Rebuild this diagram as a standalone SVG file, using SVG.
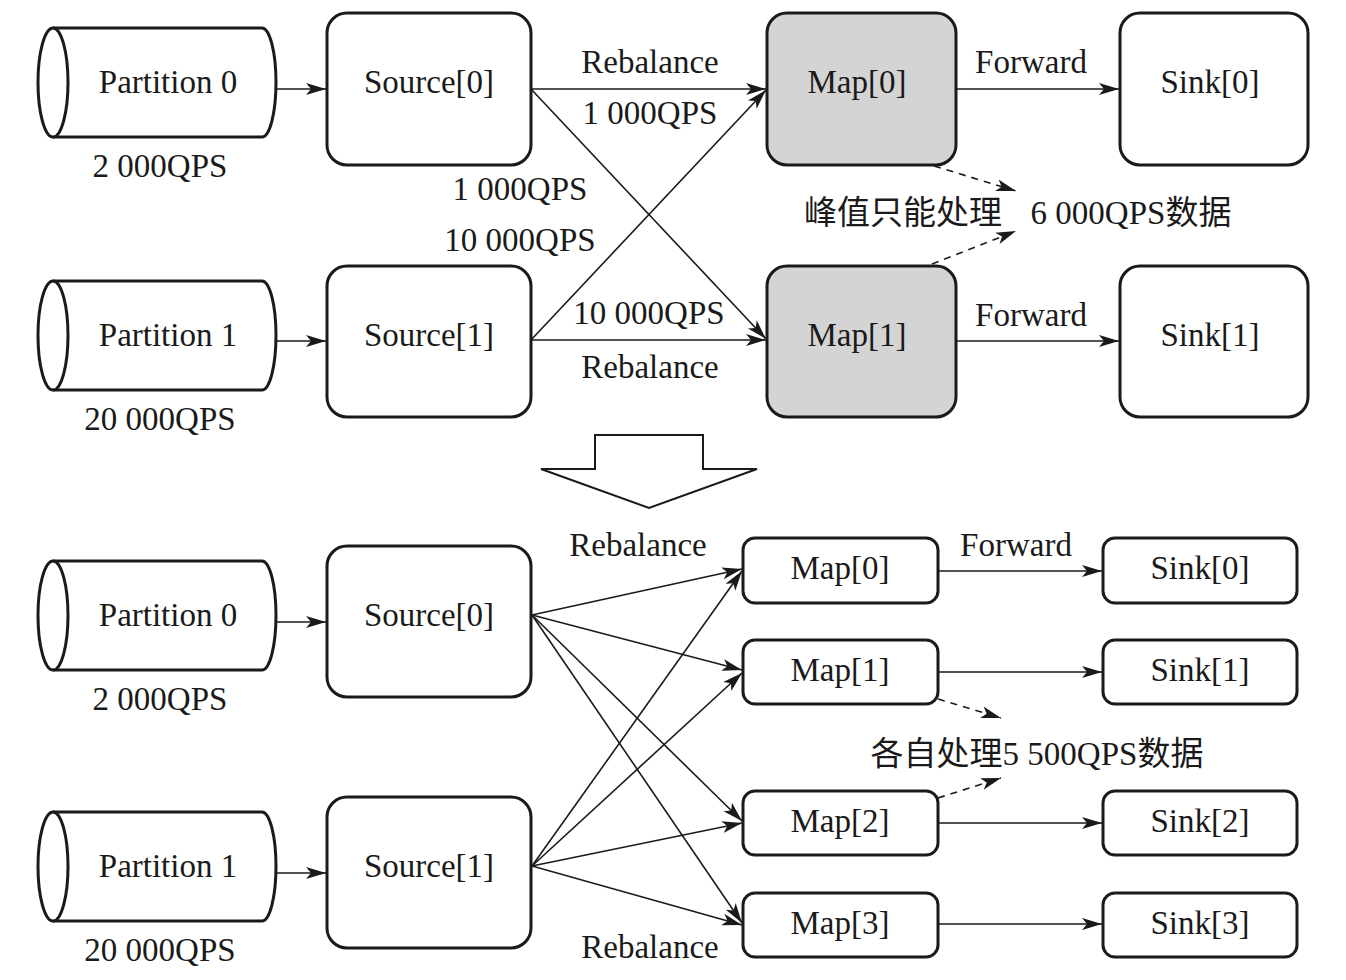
<svg xmlns="http://www.w3.org/2000/svg" width="1346" height="980" viewBox="0 0 1346 980">
<style>
.box{fill:#fff;stroke:#1a1a1a;stroke-width:3}
.gray{fill:#d4d4d4}
.cyl{fill:#fff;stroke:#1a1a1a;stroke-width:3}
.t{font-family:"Liberation Serif","Noto Sans CJK SC",serif;font-size:33px;fill:#1a1a1a;text-anchor:middle}
.c{fill:none;stroke:#1a1a1a;stroke-width:1.6}
.d{fill:none;stroke:#1a1a1a;stroke-width:1.6;stroke-dasharray:7 6}
</style>
<defs>
<marker id="ah" markerUnits="userSpaceOnUse" markerWidth="22" markerHeight="14" refX="20" refY="6" orient="auto" viewBox="0 0 22 12">
<path d="M0,0 L20,6 L0,12 L5,6 Z" fill="#1a1a1a"/>
</marker>
<g id="cylShape">
<path d="M53,0 L262,0 A14,54.5 0 0 1 262,109 L53,109" class="cyl"/>
<ellipse cx="53" cy="54.5" rx="15" ry="54.5" class="cyl"/>
</g>
</defs>
<rect width="1346" height="980" fill="#fff"/>

<g id="connectors">
<line x1="276" y1="89" x2="326" y2="89" class="c" marker-end="url(#ah)"/>
<line x1="276" y1="341" x2="326" y2="341" class="c" marker-end="url(#ah)"/>
<line x1="531" y1="89" x2="766" y2="89" class="c" marker-end="url(#ah)"/>
<line x1="531" y1="89" x2="766" y2="339" class="c" marker-end="url(#ah)"/>
<line x1="531" y1="340" x2="766" y2="90" class="c" marker-end="url(#ah)"/>
<line x1="531" y1="340" x2="766" y2="340" class="c" marker-end="url(#ah)"/>
<line x1="956" y1="89" x2="1119" y2="89" class="c" marker-end="url(#ah)"/>
<line x1="956" y1="341" x2="1119" y2="341" class="c" marker-end="url(#ah)"/>
<line x1="934" y1="166" x2="1016" y2="191" class="d" marker-end="url(#ah)"/>
<line x1="932" y1="264" x2="1016" y2="231" class="d" marker-end="url(#ah)"/>

<line x1="276" y1="622" x2="326" y2="622" class="c" marker-end="url(#ah)"/>
<line x1="276" y1="873" x2="326" y2="873" class="c" marker-end="url(#ah)"/>
<line x1="532" y1="615" x2="742" y2="569" class="c" marker-end="url(#ah)"/>
<line x1="532" y1="615" x2="742" y2="670" class="c" marker-end="url(#ah)"/>
<line x1="532" y1="615" x2="742" y2="821" class="c" marker-end="url(#ah)"/>
<line x1="532" y1="615" x2="742" y2="923" class="c" marker-end="url(#ah)"/>
<line x1="532" y1="866" x2="742" y2="571" class="c" marker-end="url(#ah)"/>
<line x1="532" y1="866" x2="742" y2="673" class="c" marker-end="url(#ah)"/>
<line x1="532" y1="866" x2="742" y2="823" class="c" marker-end="url(#ah)"/>
<line x1="532" y1="866" x2="742" y2="925" class="c" marker-end="url(#ah)"/>
<line x1="938" y1="571" x2="1102" y2="571" class="c" marker-end="url(#ah)"/>
<line x1="938" y1="672" x2="1102" y2="672" class="c" marker-end="url(#ah)"/>
<line x1="938" y1="823" x2="1102" y2="823" class="c" marker-end="url(#ah)"/>
<line x1="938" y1="924" x2="1102" y2="924" class="c" marker-end="url(#ah)"/>
<line x1="938" y1="699" x2="1001" y2="718" class="d" marker-end="url(#ah)"/>
<line x1="938" y1="798" x2="1001" y2="778" class="d" marker-end="url(#ah)"/>
</g>

<g id="labels">
<text class="t" x="650" y="73">Rebalance</text>
<text class="t" x="650" y="124">1 000QPS</text>
<text class="t" x="520" y="200">1 000QPS</text>
<text class="t" x="520" y="251">10 000QPS</text>
<text class="t" x="649" y="324">10 000QPS</text>
<text class="t" x="650" y="378">Rebalance</text>
<text class="t" x="1031" y="73">Forward</text>
<text class="t" x="1031" y="326">Forward</text>
<text class="t" x="903" y="224">峰值只能处理</text>
<text class="t" x="1131" y="224">6 000QPS数据</text>
<text class="t" x="638" y="556">Rebalance</text>
<text class="t" x="1016" y="556">Forward</text>
<text class="t" x="650" y="958">Rebalance</text>
<text class="t" x="1037" y="765">各自处理5 500QPS数据</text>
</g>

<g id="partition0-top">
<use href="#cylShape" y="28"/>
<text class="t" x="168" y="93">Partition 0</text>
<text class="t" x="160" y="177">2 000QPS</text>
</g>
<g id="partition1-top">
<use href="#cylShape" y="281"/>
<text class="t" x="168" y="346">Partition 1</text>
<text class="t" x="160" y="430">20 000QPS</text>
</g>
<g id="source0-top">
<rect class="box" x="327" y="13" width="204" height="152" rx="20"/>
<text class="t" x="429" y="93">Source[0]</text>
</g>
<g id="source1-top">
<rect class="box" x="327" y="266" width="204" height="151" rx="20"/>
<text class="t" x="429" y="346">Source[1]</text>
</g>
<g id="map0-top">
<rect class="box gray" x="767" y="13" width="189" height="152" rx="20"/>
<text class="t" x="857" y="93">Map[0]</text>
</g>
<g id="map1-top">
<rect class="box gray" x="767" y="266" width="189" height="151" rx="20"/>
<text class="t" x="857" y="346">Map[1]</text>
</g>
<g id="sink0-top">
<rect class="box" x="1120" y="13" width="188" height="152" rx="20"/>
<text class="t" x="1210" y="93">Sink[0]</text>
</g>
<g id="sink1-top">
<rect class="box" x="1120" y="266" width="188" height="151" rx="20"/>
<text class="t" x="1210" y="346">Sink[1]</text>
</g>

<g id="transition-arrow">
<polygon points="595,435 703,435 703,469 757,469 649,508 541,469 595,469" fill="#fff" stroke="#1a1a1a" stroke-width="2"/>
</g>

<g id="partition0-bottom">
<use href="#cylShape" y="561"/>
<text class="t" x="168" y="626">Partition 0</text>
<text class="t" x="160" y="710">2 000QPS</text>
</g>
<g id="partition1-bottom">
<use href="#cylShape" y="812"/>
<text class="t" x="168" y="877">Partition 1</text>
<text class="t" x="160" y="961">20 000QPS</text>
</g>
<g id="source0-bottom">
<rect class="box" x="327" y="546" width="204" height="151" rx="20"/>
<text class="t" x="429" y="626">Source[0]</text>
</g>
<g id="source1-bottom">
<rect class="box" x="327" y="797" width="204" height="151" rx="20"/>
<text class="t" x="429" y="877">Source[1]</text>
</g>
<g id="map0-bottom">
<rect class="box" x="743" y="538" width="195" height="65" rx="12"/>
<text class="t" x="840" y="579">Map[0]</text>
</g>
<g id="map1-bottom">
<rect class="box" x="743" y="640" width="195" height="64" rx="12"/>
<text class="t" x="840" y="681">Map[1]</text>
</g>
<g id="map2-bottom">
<rect class="box" x="743" y="791" width="195" height="64" rx="12"/>
<text class="t" x="840" y="832">Map[2]</text>
</g>
<g id="map3-bottom">
<rect class="box" x="743" y="893" width="195" height="64" rx="12"/>
<text class="t" x="840" y="934">Map[3]</text>
</g>
<g id="sink0-bottom">
<rect class="box" x="1103" y="538" width="194" height="65" rx="12"/>
<text class="t" x="1200" y="579">Sink[0]</text>
</g>
<g id="sink1-bottom">
<rect class="box" x="1103" y="640" width="194" height="64" rx="12"/>
<text class="t" x="1200" y="681">Sink[1]</text>
</g>
<g id="sink2-bottom">
<rect class="box" x="1103" y="791" width="194" height="64" rx="12"/>
<text class="t" x="1200" y="832">Sink[2]</text>
</g>
<g id="sink3-bottom">
<rect class="box" x="1103" y="893" width="194" height="64" rx="12"/>
<text class="t" x="1200" y="934">Sink[3]</text>
</g>
</svg>
